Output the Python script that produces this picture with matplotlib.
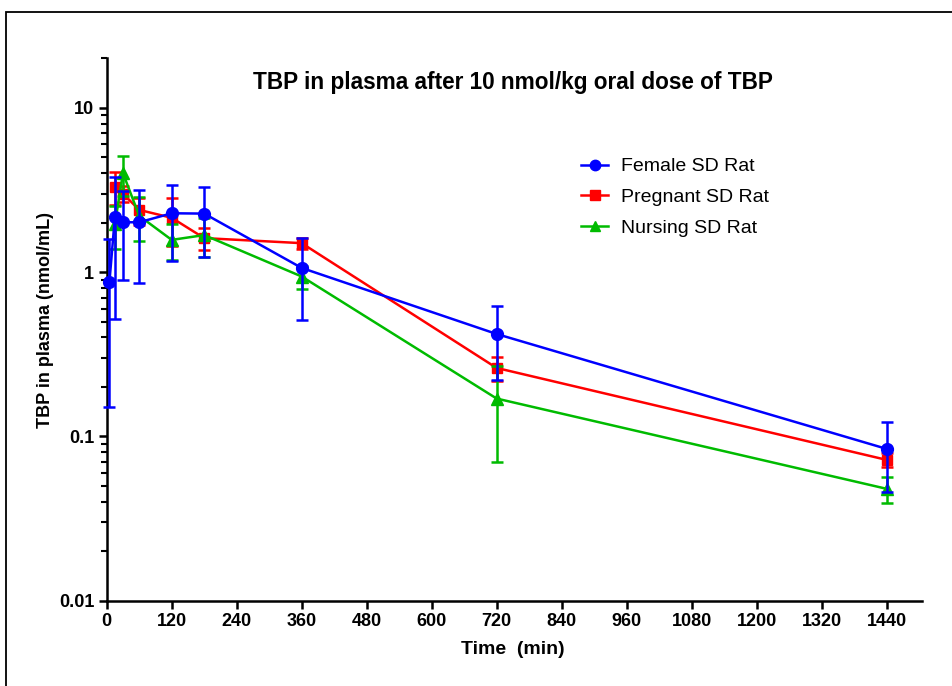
import numpy as np
import matplotlib
matplotlib.use('Agg')
import matplotlib.pyplot as plt
from matplotlib.lines import Line2D
from matplotlib.patches import Rectangle
from matplotlib.ticker import FixedLocator, LogLocator, NullFormatter

plt.rcParams['font.family'] = 'Liberation Sans'

# Female SD Rat
female_t = [5, 15, 30, 60, 120, 180, 360, 720, 1440]
female_mean = [0.87, 2.15, 2.01, 2.01, 2.28, 2.27, 1.06, 0.42, 0.084]
female_sd = [0.72, 1.63, 1.11, 1.15, 1.11, 1.04, 0.55, 0.20, 0.038]

# Pregnant SD Rat
preg_t = [15, 30, 60, 120, 180, 360, 720, 1440]
preg_mean = [3.31, 3.0, 2.39, 2.14, 1.61, 1.50, 0.261, 0.072]
preg_sd = [0.76, 0.32, 0.45, 0.70, 0.25, 0.11, 0.043, 0.007]

# Nursing SD Rat
nurs_t = [15, 30, 60, 120, 180, 360, 720, 1440]
nurs_mean = [1.95, 4.0, 2.2, 1.57, 1.68, 0.94, 0.17, 0.048]
nurs_sd = [0.57, 1.1, 0.65, 0.38, 0.45, 0.15, 0.10, 0.0088]

x_ticks = list(range(0, 1441, 120))
y_ticks = [0.01, 0.1, 1, 10]
y_labels = ['0.01', '0.1', '1', '10']

W, H = 952, 686
fig = plt.figure(figsize=(W / 100, H / 100), dpi=100)
ax = fig.add_axes([0.1121, 0.1243, 0.8561, 0.7907])

# frame around the figure (only top and left visible)
fig.patches.append(Rectangle((5.5 / W, -0.2), 1.5, 1.2 - 11.7 / H,
                             transform=fig.transFigure, fill=False,
                             edgecolor='black', linewidth=1.3))

series = [
    ('Pregnant SD Rat', preg_t, preg_mean, preg_sd, '#FF0000', 's', 7.5, 2),
    ('Nursing SD Rat', nurs_t, nurs_mean, nurs_sd, '#00BB00', '^', 8.5, 3),
    ('Female SD Rat', female_t, female_mean, female_sd, '#0000FF', 'o', 8.5, 4),
]
handles = {}
for name, t, m, s, c, mk, ms, z in series:
    ax.errorbar(t, m, yerr=s, color=c, marker=mk, markersize=ms,
                linewidth=1.8, elinewidth=1.8, capsize=4.5, capthick=1.8,
                zorder=z, clip_on=False)
    handles[name] = Line2D([], [], color=c, marker=mk, markersize=ms - 1,
                           linewidth=1.8)

ax.set_yscale('log')
ax.set_xlim(0, 1505)
ax.set_ylim(0.01, 20)
ax.xaxis.set_major_locator(FixedLocator(x_ticks))
ax.set_xticklabels([str(v) for v in x_ticks])
ax.yaxis.set_major_locator(FixedLocator(y_ticks))
ax.set_yticklabels(y_labels)
ax.yaxis.set_minor_locator(LogLocator(base=10, subs=np.arange(2, 10)))
ax.yaxis.set_minor_formatter(NullFormatter())

for sp in ['top', 'right']:
    ax.spines[sp].set_visible(False)
for sp in ['left', 'bottom']:
    ax.spines[sp].set_linewidth(1.8)
ax.tick_params(which='major', length=6, width=1.8, labelsize=13, pad=3)
ax.tick_params(which='minor', length=4, width=1.5)
for lbl in ax.get_xticklabels() + ax.get_yticklabels():
    lbl.set_fontweight('bold')

fig.text(513 / W, 1 - 82 / H, 'TBP in plasma after 10 nmol/kg oral dose of TBP',
         fontsize=16.3, fontweight='bold', ha='center', va='center')
fig.text(513 / W, 1 - 650 / H, 'Time  (min)', fontsize=14,
         fontweight='bold', ha='center', va='center')
fig.text(46 / W, 1 - 320 / H, 'TBP in plasma (nmol/mL)', fontsize=13,
         fontweight='bold', ha='center', va='center', rotation=90)

order = ['Female SD Rat', 'Pregnant SD Rat', 'Nursing SD Rat']
ax.legend([handles[n] for n in order], order, loc='upper left',
          bbox_to_anchor=(0.5605, 0.849), frameon=False, fontsize=14,
          handlelength=1.4, handletextpad=0.67, labelspacing=0.68)

plt.savefig('out.png', dpi=100)
